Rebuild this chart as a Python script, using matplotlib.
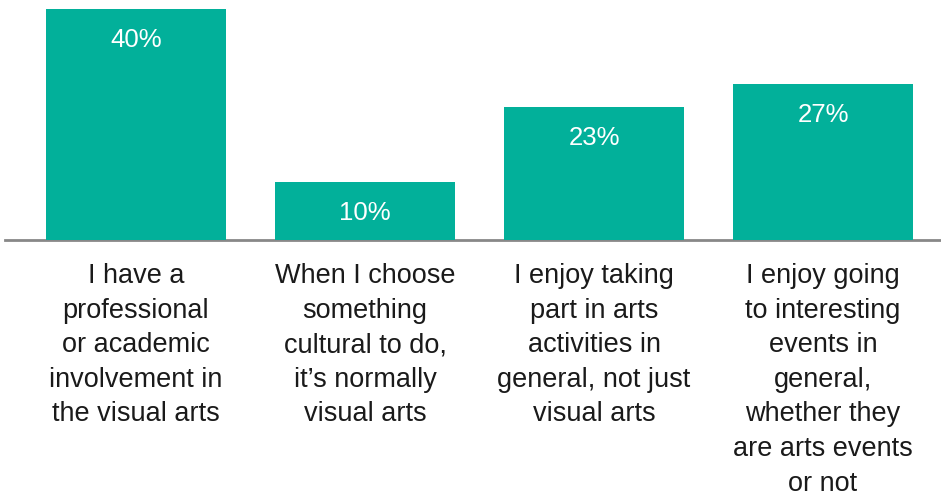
import matplotlib
matplotlib.use("Agg")
import matplotlib.pyplot as plt

categories = [
    "I have a\nprofessional\nor academic\ninvolvement in\nthe visual arts",
    "When I choose\nsomething\ncultural to do,\nit\u2019s normally\nvisual arts",
    "I enjoy taking\npart in arts\nactivities in\ngeneral, not just\nvisual arts",
    "I enjoy going\nto interesting\nevents in\ngeneral,\nwhether they\nare arts events\nor not",
]
values = [40, 10, 23, 27]
value_labels = ["40%", "10%", "23%", "27%"]

bar_color = "#02B09A"
text_color = "#1a1a1a"

fig = plt.figure(figsize=(9.41, 4.95), dpi=100)
ax = fig.add_axes([5 / 941, 1 - 240 / 495, 936 / 941, (240 - 9) / 495])

x = list(range(len(values)))
ax.bar(x, values, width=180 / 229, color=bar_color, zorder=2)
ax.set_xlim(-131 / 229, 805 / 229)
ax.set_ylim(0, 40)

for xi, v, lab in zip(x, values, value_labels):
    ax.annotate(lab, (xi, v), xytext=(0, -22.5), textcoords="offset points",
                ha="center", va="center", color="white",
                fontsize=18.5, family="Liberation Sans", zorder=3)

for xi, cat in zip(x, categories):
    ax.annotate(cat, (xi, 0), xytext=(0, -16.5), textcoords="offset points",
                ha="center", va="top", color=text_color,
                fontsize=19.5, family="Liberation Sans", linespacing=1.43,
                annotation_clip=False)

for s in ["top", "right", "left"]:
    ax.spines[s].set_visible(False)
ax.spines["bottom"].set_color("#888888")
ax.spines["bottom"].set_linewidth(2)
ax.spines["bottom"].set_zorder(1)
ax.set_xticks([])
ax.set_yticks([])

fig.savefig("out.png", dpi=100)
